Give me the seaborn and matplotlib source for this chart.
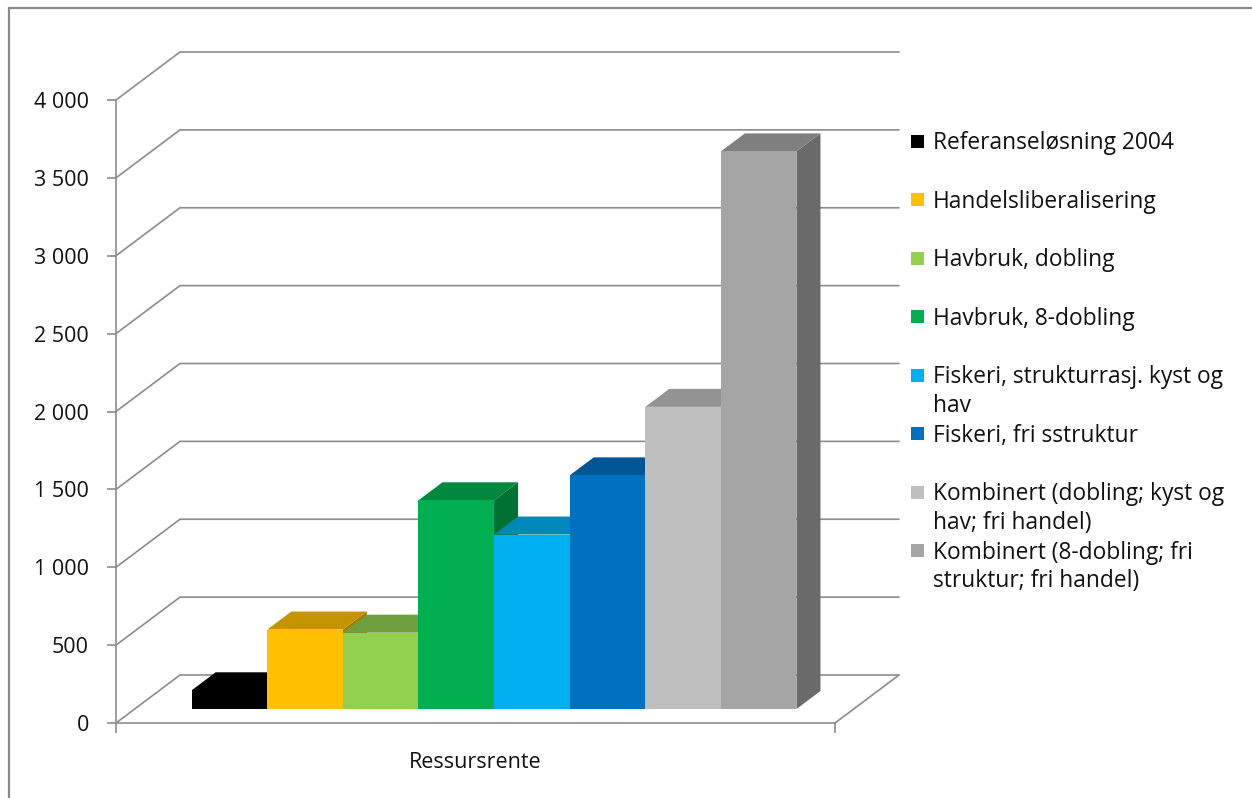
import numpy as np
import pandas as pd
import matplotlib
matplotlib.use("Agg")
import matplotlib.pyplot as plt
from matplotlib.patches import Polygon, Rectangle
from matplotlib.lines import Line2D
from matplotlib.colors import to_rgb
import seaborn as sns

# ---------------- data ----------------
categories = [
    "Referanseløsning 2004",
    "Handelsliberalisering",
    "Havbruk, dobling",
    "Havbruk, 8-dobling",
    "Fiskeri, strukturrasj. kyst og hav",
    "Fiskeri, fri sstruktur",
    "Kombinert (dobling; kyst og hav; fri handel)",
    "Kombinert (8-dobling; fri struktur; fri handel)",
]
legend_labels = [
    "Referanseløsning 2004",
    "Handelsliberalisering",
    "Havbruk, dobling",
    "Havbruk, 8-dobling",
    "Fiskeri, strukturrasj. kyst og\nhav",
    "Fiskeri, fri sstruktur",
    "Kombinert (dobling; kyst og\nhav; fri handel)",
    "Kombinert (8-dobling; fri\nstruktur; fri handel)",
]
values = [120, 510, 490, 1340, 1120, 1500, 1940, 3580]
colors = ["#000000", "#FFC000", "#92D050", "#00B050",
          "#00B0F0", "#0070C0", "#BFBFBF", "#A5A5A5"]
y_ticks = [0, 500, 1000, 1500, 2000, 2500, 3000, 3500, 4000]
y_tick_labels = ["0", "500", "1 000", "1 500", "2 000", "2 500", "3 000", "3 500", "4 000"]
x_label = "Ressursrente"

# ---------------- layout (pixels) ----------------
W, H = 1252, 798
AX_L, AX_R, AX_B, AX_T = 116, 835, 723, 100
BAR_PX = 75.6                 # pixel width of one bar
BAR0_LEFT = 173               # left edge of first bar on the front plane
DEPTH_PX = (64, 48)           # full wall depth shift (right, up)
D_FRONT = 14 / 48             # bar front face depth fraction
D_BAR = 18 / 48               # bar depth fraction
GRID = "#8c8c8c"
FS = 15.5
FS_LEG = 16.4
TXT = "#111111"

sns.set_theme(style="white")
plt.rcParams["font.family"] = ["Open Sans", "DejaVu Sans"]

fig = plt.figure(figsize=(W / 100, H / 100), dpi=100)
ax = fig.add_axes([AX_L / W, (H - AX_B) / H, (AX_R - AX_L) / W, (AX_B - AX_T) / H])
ax.set_facecolor("none")

df = pd.DataFrame({"scenario": categories, "value": values})
sns.barplot(data=df, x="scenario", y="value", hue="scenario", palette=colors,
            width=1.0, saturation=1, legend=False, errorbar=None, ax=ax)

x0 = -0.5 - (BAR0_LEFT - AX_L) / BAR_PX
x1 = x0 + (AX_R - AX_L) / BAR_PX
ymax = 4000
ax.set_xlim(x0, x1)
ax.set_ylim(0, ymax)

DX = DEPTH_PX[0] / BAR_PX
DV = DEPTH_PX[1] * ymax / (AX_B - AX_T)


def P(x, v, d):
    return (x + d * DX, v + d * DV)


def shade(c, f):
    r, g, b = to_rgb(c)
    return (r * f, g * f, b * f)


# walls and gridlines
for t in y_ticks:
    pts = [P(x0, t, 0), P(x0, t, 1), P(x1, t, 1)]
    ax.add_line(Line2D([p[0] for p in pts], [p[1] for p in pts], color=GRID,
                       lw=1.2, clip_on=False, zorder=1))
pts = [P(x1, 0, 0), P(x1, 0, 1)]
ax.add_line(Line2D([p[0] for p in pts], [p[1] for p in pts], color=GRID,
                   lw=1.2, clip_on=False, zorder=1))

# 3D bars
bars = sorted(ax.patches, key=lambda p: p.get_x())
df_ = D_FRONT
db_ = D_FRONT + D_BAR
for i, (p, c) in enumerate(zip(bars, colors)):
    xl = p.get_x()
    w = p.get_width()
    v = p.get_height()
    xr = xl + w
    p.set_x(xl + df_ * DX)
    p.set_y(df_ * DV)
    p.set_edgecolor("none")
    p.set_clip_on(False)
    p.set_zorder(12 + 3 * i)
    side = Polygon([P(xr, 0, df_), P(xr, v, df_), P(xr, v, db_), P(xr, 0, db_)],
                   closed=True, facecolor=shade(c, 0.64), edgecolor="none",
                   clip_on=False, zorder=10 + 3 * i)
    top = Polygon([P(xl, v, df_), P(xr, v, df_), P(xr, v, db_), P(xl, v, db_)],
                  closed=True, facecolor=shade(c, 0.77), edgecolor="none",
                  clip_on=False, zorder=11 + 3 * i)
    ax.add_patch(side)
    ax.add_patch(top)

# axes styling
for s in ["top", "right"]:
    ax.spines[s].set_visible(False)
for s in ["left", "bottom"]:
    ax.spines[s].set_color(GRID)
    ax.spines[s].set_linewidth(1.2)
    ax.spines[s].set_zorder(2)

ax.set_yticks(y_ticks, y_tick_labels)
ax.tick_params(axis="y", direction="out", length=6.5, width=1.2, color=GRID,
               pad=13, labelsize=FS, labelcolor=TXT, left=True)
ax.set_xticks([x0 + 1e-9, x1 - 1e-9], ["", ""])
ax.tick_params(axis="x", direction="out", length=7.5, width=1.2, color=GRID,
               bottom=True)
ax.set_ylabel("")
ax.set_xlabel(x_label, fontsize=FS, color=TXT, labelpad=10)

# legend (manual, Excel-like fixed pitch)
for i, (lab, c) in enumerate(zip(legend_labels, colors)):
    cap_top = 133 + 58.57 * i
    fig.text(933 / W, 1 - (cap_top - 2) / H, lab, fontsize=FS_LEG, color=TXT,
             va="top", ha="left", linespacing=1.25)
    sq = 13
    fig.add_artist(Rectangle((911 / W, 1 - (cap_top + 8 + sq / 2) / H), sq / W, sq / H,
                             transform=fig.transFigure, facecolor=c, edgecolor="none"))

# outer frame
fig.add_artist(Rectangle((9 / W, -0.05), 1.1, (1 - 8 / H) + 0.05, transform=fig.transFigure,
                         fill=False, edgecolor="#8a8a8a", lw=1.6, clip_on=False))

fig.savefig("out.png", dpi=100)
